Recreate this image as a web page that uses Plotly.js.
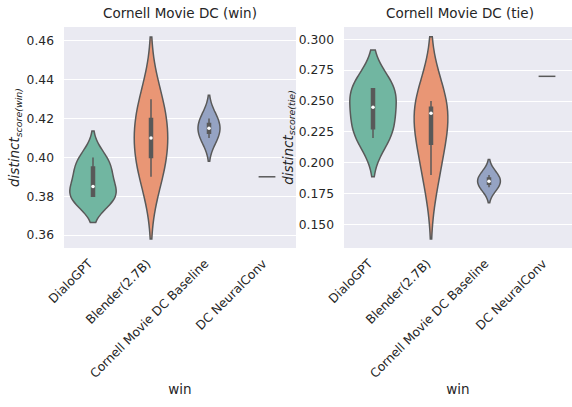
<!DOCTYPE html>
<html><head><meta charset="utf-8">
<script src="https://cdn.plot.ly/plotly-3.0.1.min.js"></script>
<style>html,body{margin:0;padding:0;background:#fff}#chart{width:572px;height:407px}</style>
</head><body><div id="chart"></div>
<script>
// ---- data ----
const categories = ['DialoGPT', 'Blender(2.7B)', 'Cornell Movie DC Baseline', 'DC NeuralConv'];
const winDialoGPT = [0.38, 0.38, 0.38, 0.39, 0.395, 0.40];
const winBlender = [0.39, 0.40, 0.41, 0.42, 0.43];
const winCornell = [0.41, 0.415, 0.42];
const winNeuralConv = [0.39];
const tieDialoGPT = [0.22, 0.225, 0.23, 0.245, 0.26, 0.26, 0.26];
const tieBlender = [0.19, 0.215, 0.24, 0.245, 0.25];
const tieCornell = [0.18, 0.185, 0.19];
const tieNeuralConv = [0.27];
const winTicks = [0.36, 0.38, 0.40, 0.42, 0.44, 0.46];
const tieTicks = [0.150, 0.175, 0.200, 0.225, 0.250, 0.275, 0.300];
const panelTitles = ['Cornell Movie DC (win)', 'Cornell Movie DC (tie)'];
const xTitle = 'win';

// ---- style ----
const colors = ['#71b6a1', '#e99675', '#95a3c3'];
const gray = '#595959';
const txt = '#262626';
const winBw = [0.0068, 0.016, 0.006];
const tieBw = [0.0157, 0.026, 0.0063];
const winW = [0.8, 0.578, 0.38];
const tieW = [0.8, 0.58, 0.39];
const pxPerCat = 58;

function median(a) {
  const s = a.slice().sort((p, q) => p - q);
  const n = s.length;
  return n % 2 ? s[(n - 1) / 2] : (s[n / 2 - 1] + s[n / 2]) / 2;
}

function violin(data, cat, color, bw, w, xa, ya) {
  return {
    type: 'violin', x: data.map(() => cat), y: data, xaxis: xa, yaxis: ya,
    bandwidth: bw, width: w, scalemode: 'width', spanmode: 'soft', points: false,
    fillcolor: color, line: {color: gray, width: 1.5}, opacity: 1,
    quartilemethod: 'inclusive',
    box: {visible: true, width: 3 / (w * pxPerCat), fillcolor: gray, line: {color: gray, width: 1.5}},
    meanline: {visible: false}, hoverinfo: 'skip'
  };
}

const traces = [];
const winSets = [winDialoGPT, winBlender, winCornell];
const tieSets = [tieDialoGPT, tieBlender, tieCornell];
winSets.forEach((d, i) => traces.push(violin(d, categories[i], colors[i], winBw[i], winW[i], 'x', 'y')));
tieSets.forEach((d, i) => traces.push(violin(d, categories[i], colors[i], tieBw[i], tieW[i], 'x2', 'y2')));
// median dots
traces.push({type: 'scatter', mode: 'markers', xaxis: 'x', yaxis: 'y',
  x: categories.slice(0, 3), y: winSets.map(median),
  marker: {color: '#ffffff', size: 3.5}, hoverinfo: 'skip'});
traces.push({type: 'scatter', mode: 'markers', xaxis: 'x2', yaxis: 'y2',
  x: categories.slice(0, 3), y: tieSets.map(median),
  marker: {color: '#ffffff', size: 3.5}, hoverinfo: 'skip'});
// single observations
traces.push({type: 'scatter', mode: 'markers', xaxis: 'x', yaxis: 'y',
  x: winNeuralConv.map(() => categories[3]), y: winNeuralConv,
  marker: {symbol: 'line-ew', size: 12, color: gray, line: {color: gray, width: 1.5}}, hoverinfo: 'skip'});
traces.push({type: 'scatter', mode: 'markers', xaxis: 'x2', yaxis: 'y2',
  x: tieNeuralConv.map(() => categories[3]), y: tieNeuralConv,
  marker: {symbol: 'line-ew', size: 12, color: gray, line: {color: gray, width: 1.5}}, hoverinfo: 'skip'});

const L = 64, T = 27, B = 159, W = 572, H = 407;
const plotW = W - L;
const xBase = {
  type: 'category', categoryorder: 'array', categoryarray: categories,
  showgrid: false, zeroline: false, showline: false, ticks: '', tickangle: -45,
  ticklabelstandoff: 5, ticklabelshift: -4,
  tickfont: {size: 12.3, color: txt}, automargin: false,
  title: {text: xTitle, font: {size: 13.5, color: txt}, standoff: 4}
};
const yBase = {
  showgrid: true, gridcolor: '#ffffff', gridwidth: 1, zeroline: false, showline: false,
  ticks: '', ticklabelstandoff: 9, tickfont: {size: 12.3, color: txt}, automargin: false
};
const layout = {
  width: W, height: H, margin: {l: L, r: 0, t: T, b: B, pad: 0},
  paper_bgcolor: '#ffffff', plot_bgcolor: '#EAEAF2', showlegend: false,
  violinmode: 'overlay',
  font: {family: 'DejaVu Sans, sans-serif', color: txt, size: 12},
  xaxis: Object.assign({}, xBase, {domain: [0, 232 / plotW], anchor: 'y', range: [-0.5, 3.5]}),
  xaxis2: Object.assign({}, xBase, {domain: [(344 - L) / plotW, 1], anchor: 'y2', range: [-0.5, 3.431]}),
  yaxis: Object.assign({}, yBase, {domain: [0, 1], anchor: 'x', range: [0.3533, 0.4672],
    tickvals: winTicks, tickformat: '.2f',
    title: {text: '<i>distinct<sub>score(win)</sub></i>', font: {size: 13.5, color: txt}, standoff: 3}}),
  yaxis2: Object.assign({}, yBase, {domain: [0, 1], anchor: 'x2', range: [0.1308, 0.3100],
    tickvals: tieTicks, tickformat: '.3f',
    title: {text: '<i>distinct<sub>score(tie)</sub></i>', font: {size: 13.5, color: txt}, standoff: 2}}),
  annotations: [
    {text: panelTitles[0], xref: 'paper', yref: 'paper', x: (180 - L) / plotW, y: 1 + (T - 13) / (H - T - B),
     xanchor: 'center', yanchor: 'middle', showarrow: false, font: {size: 13.5, color: txt}},
    {text: panelTitles[1], xref: 'paper', yref: 'paper', x: (460 - L) / plotW, y: 1 + (T - 13) / (H - T - B),
     xanchor: 'center', yanchor: 'middle', showarrow: false, font: {size: 13.5, color: txt}}
  ]
};
Plotly.newPlot('chart', traces, layout, {staticPlot: true, displayModeBar: false});
</script></body></html>
